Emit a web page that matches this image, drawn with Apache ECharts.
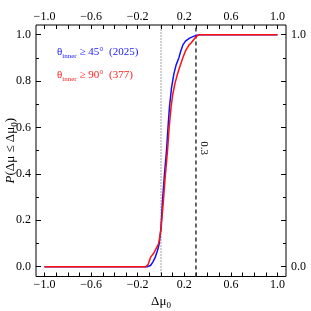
<!DOCTYPE html>
<html><head><meta charset="utf-8">
<script src="https://cdn.jsdelivr.net/npm/echarts@6/dist/echarts.min.js"></script>
<style>html,body{margin:0;padding:0;background:#fff}#c{width:311px;height:311px}</style>
</head><body><div id="c"></div>
<script>
// Data
const blueX = [-1.0, -0.12, -0.09, -0.07, -0.05, -0.03, -0.015, 0.0, 0.015, 0.03, 0.047, 0.06, 0.073, 0.09, 0.11, 0.13, 0.153, 0.17, 0.187, 0.21, 0.245, 0.29, 0.33, 1.0];
const blueY = [0.0, 0.0, 0.005, 0.02, 0.04, 0.07, 0.10, 0.17, 0.30, 0.40, 0.50, 0.60, 0.69, 0.77, 0.83, 0.87, 0.90, 0.93, 0.955, 0.972, 0.985, 0.995, 1.0, 1.0];
const redX = [-1.0, -0.13, -0.11, -0.09, -0.06, -0.04, -0.02, 0.0, 0.02, 0.035, 0.056, 0.07, 0.087, 0.10, 0.12, 0.139, 0.16, 0.187, 0.21, 0.24, 0.26, 0.29, 0.31, 0.33, 1.0];
const redY = [0.0, 0.0, 0.01, 0.04, 0.06, 0.08, 0.10, 0.16, 0.28, 0.38, 0.50, 0.60, 0.69, 0.74, 0.79, 0.826, 0.86, 0.90, 0.93, 0.955, 0.965, 0.985, 0.995, 1.0, 1.0];
const refLines = [0.0, 0.3];
const xTickLabels = [-1.0, -0.6, -0.2, 0.2, 0.6, 1.0];
const yTickLabels = [0.0, 0.2, 0.4, 0.6, 0.8, 1.0];
const yRightLabels = [0.0, 1.0];
const legendBlue = ['θ', 'inner', ' ≥ 45°  (2025)'];
const legendRed = ['θ', 'inner', ' ≥ 90°  (377)'];
const refLabel = '0.3';

const F = 'Liberation Serif';
const pair = (xs, ys) => xs.map((x, i) => [x, ys[i]]);
const fmt = v => (v < 0 ? '\u2212' : '') + Math.abs(v).toFixed(1);
const inList = (list, v) => list.some(t => Math.abs(t - v) < 1e-6);

const chart = echarts.init(document.getElementById('c'), null, {renderer: 'canvas'});

const xCommon = {
  type: 'value', gridIndex: 1, min: -1, max: 1, interval: 0.1,
  axisLine: {show: false, onZero: false}, splitLine: {show: false},
  axisTick: {show: true, inside: true, length: 4, lineStyle: {color: '#000', width: 1}},
  axisLabel: {fontFamily: F, fontSize: 12, color: '#000', margin: 2,
    formatter: v => inList(xTickLabels, v) ? fmt(v) : ''}
};
const yCommon = {
  type: 'value', gridIndex: 1, min: 0, max: 1, interval: 0.2,
  axisLine: {show: false, onZero: false}, splitLine: {show: false},
  axisTick: {show: true, inside: true, length: 5, lineStyle: {color: '#000', width: 1}},
  minorTick: {show: true, splitNumber: 2, length: 3, lineStyle: {color: '#000', width: 1}},
  axisLabel: {fontFamily: F, fontSize: 12, color: '#000', margin: 5}
};

const legendRich = color => ({
  a: {fontFamily: F, fontSize: 11, fill: color, lineHeight: 13, verticalAlign: 'top'},
  s: {fontFamily: F, fontSize: 7, fill: color, lineHeight: 7, verticalAlign: 'bottom'},
  b: {fontFamily: F, fontSize: 11, fill: color, lineHeight: 13, verticalAlign: 'top'}
});
const legText = arr => '{a|' + arr[0] + '}{s|' + arr[1] + '}{b|' + arr[2] + '}';

chart.setOption({
  animation: false,
  grid: [
    {left: 36, top: 25, width: 250, height: 251.5, show: true, borderColor: '#000', borderWidth: 1,
      backgroundColor: 'transparent', outerBoundsMode: 'none', containLabel: false},
    {left: 44.5, top: 34.7, width: 233, height: 232, outerBoundsMode: 'none', containLabel: false}
  ],
  xAxis: [
    {type: 'value', gridIndex: 0, min: -1.073, max: 1.073, show: false},
    Object.assign({}, xCommon, {position: 'bottom', offset: 9.8,
      name: '{a|Δμ}{s|0}', nameLocation: 'middle', nameGap: 19, nameMoveOverlap: false,
      nameTextStyle: {rich: {
        a: {fontFamily: F, fontSize: 13, color: '#000', lineHeight: 15, verticalAlign: 'top'},
        s: {fontFamily: F, fontSize: 9, color: '#000', lineHeight: 9, verticalAlign: 'bottom'}}}}),
    Object.assign({}, xCommon, {position: 'top', offset: 9.7})
  ],
  yAxis: [
    {type: 'value', gridIndex: 0, min: 0, max: 1, show: false},
    Object.assign({}, yCommon, {position: 'left', offset: 8.5,
      axisLabel: Object.assign({}, yCommon.axisLabel, {formatter: v => inList(yTickLabels, v) ? v.toFixed(1) : ''}),
      name: '{i|P}{a|(Δμ ≤ Δμ}{s|0}{a|)}', nameLocation: 'middle', nameGap: 17, nameRotate: 90, nameMoveOverlap: false,
      nameTextStyle: {rich: {
        i: {fontFamily: F, fontSize: 13, fontStyle: 'italic', color: '#000', lineHeight: 15, verticalAlign: 'top'},
        a: {fontFamily: F, fontSize: 13, color: '#000', lineHeight: 15, verticalAlign: 'top'},
        s: {fontFamily: F, fontSize: 9, color: '#000', lineHeight: 9, verticalAlign: 'bottom'}}}}),
    Object.assign({}, yCommon, {position: 'right', offset: 8.5,
      axisLabel: Object.assign({}, yCommon.axisLabel, {formatter: v => inList(yRightLabels, v) ? v.toFixed(1) : ''})})
  ],
  series: [
    {type: 'line', xAxisIndex: 0, yAxisIndex: 0, symbol: 'none', silent: true,
      data: [[refLines[0], 0], [refLines[0], 1]],
      lineStyle: {color: '#444', width: 1, type: [1, 2]}},
    {type: 'line', xAxisIndex: 0, yAxisIndex: 0, symbol: 'none', silent: true,
      data: [[refLines[1], 0], [refLines[1], 1]],
      lineStyle: {color: '#333', width: 1.5, type: [4, 3]}},
    {type: 'line', xAxisIndex: 1, yAxisIndex: 1, symbol: 'none', clip: false,
      data: pair(blueX, blueY), lineStyle: {color: '#1010ff', width: 1.5}},
    {type: 'line', xAxisIndex: 1, yAxisIndex: 1, symbol: 'none', clip: false,
      data: pair(redX, redY), lineStyle: {color: '#ff1010', width: 1.5}}
  ],
  graphic: [
    {type: 'text', left: 57, top: 47, style: {text: legText(legendBlue), rich: legendRich('#2020ff')}},
    {type: 'text', left: 57, top: 70, style: {text: legText(legendRed), rich: legendRich('#ff2020')}},
    {type: 'text', x: 204, y: 148, rotation: -Math.PI / 2,
      style: {text: refLabel, fontFamily: F, fontSize: 11, fill: '#000', align: 'center', verticalAlign: 'middle'}}
  ]
});
</script></body></html>
